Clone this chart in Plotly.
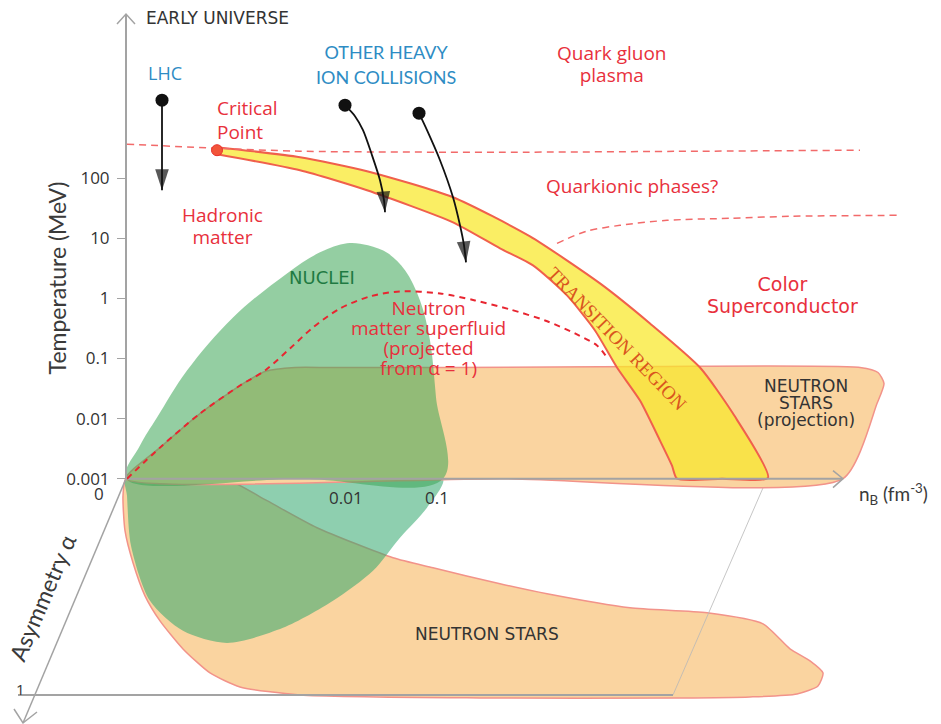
import plotly.graph_objects as go

W, H = 941, 724          # diagram coordinate frame (pixels of the target picture)
PAGE_H = 736             # page height; the photo is resized to 724

# ---------------- data (diagram units: x along n_B, y down the page) ----------------
temp_tick_values = [0.001, 0.01, 0.1, 1, 10, 100]
temp_tick_labels = ["0.001", "0.01", "0.1", "1", "10", "100"]

# NUCLEI region, (n_B, T) plane
nuclei_upper_x = [126, 140, 157, 187, 233, 287, 320, 347, 368, 388, 405, 420, 430, 436, 443, 300, 126]
nuclei_upper_y = [478, 445, 417, 370, 317, 273, 252, 243, 245, 253, 270, 300, 340, 397, 478, 478, 478]
# NUCLEI region, (n_B, alpha) plane
nuclei_lower_x = [126, 127, 131, 150, 183, 227, 283, 333, 373, 400, 427, 443, 300, 126]
nuclei_lower_y = [478, 495, 545, 600, 630, 642, 627, 600, 570, 537, 507, 478, 478, 478]

# NEUTRON STARS projection, (n_B, T) plane
ns_upper_x = [126, 160, 200, 240, 265, 295, 330, 450, 650, 860, 878, 884, 877, 843, 500, 126]
ns_upper_y = [478, 447, 413, 385, 371, 367, 367, 367, 366, 367, 372, 383, 403, 478, 478, 478]
# NEUTRON STARS, (n_B, alpha) plane
ns_lower_x = [126, 123, 125, 133, 145, 160, 183, 210, 240, 300, 480, 680, 750, 797, 818, 823,
              810, 790, 763, 707, 630, 547, 500, 433, 393, 317, 267, 227, 170, 126]
ns_lower_y = [478, 495, 530, 562, 595, 620, 648, 672, 686, 694, 697, 697, 696, 693, 685, 672,
              660, 648, 623, 612, 607, 593, 583, 567, 557, 527, 500, 479, 478, 478]

# Transition region band
band_x = [217, 300, 367, 453, 530, 600, 650, 700, 733, 768, 722, 677,
          672, 660, 640, 617, 595, 567, 533, 500, 453, 367, 300, 217]
band_y = [147, 157, 171, 197, 236, 283, 323, 367, 413, 477, 478, 478,
          465, 440, 400, 367, 330, 295, 265, 248, 222, 190, 170, 154]
critical_point = (217, 150)

# Phase boundaries (dashed)
qgp_boundary_x = [127, 217, 300, 500, 700, 860]
qgp_boundary_y = [144, 148, 151, 152, 151, 150]
quarkionic_boundary_x = [557, 586, 620, 667, 730, 790, 898]
quarkionic_boundary_y = [243, 231, 225, 220, 218, 216, 215]
superfluid_x = [127, 160, 200, 240, 265, 290, 313, 340, 370, 400, 440, 475, 510, 545, 575, 597, 607]
superfluid_y = [478, 447, 413, 385, 370, 348, 327, 308, 296, 291, 293, 300, 309, 320, 333, 345, 357]

# Experiment trajectories (start point = collision, last point = arrow tip)
lhc_x = [162, 162]
lhc_y = [100, 190]
hic1_x = [345, 355, 363, 372, 380, 384, 385]
hic1_y = [105, 116, 130, 155, 180, 200, 212]
hic2_x = [419, 427, 440, 453, 460, 464, 466]
hic2_y = [113, 130, 160, 197, 225, 245, 262]

GRAY = "#a3a3a3"
RED = "#e8303c"
BLUE = "#2e8cc4"
DARK = "#333333"
FONT = "Open Sans"

fig = go.Figure()


def poly(x, y, fill, line_color, width=1.5, smooth=0.7):
    fig.add_trace(go.Scatter(x=x, y=y, mode="lines", fill="toself", fillcolor=fill,
                             line=dict(color=line_color, width=width, shape="spline", smoothing=smooth),
                             hoverinfo="skip", showlegend=False))


def line(x, y, color, width=1.5, dash=None, shape="linear"):
    fig.add_trace(go.Scatter(x=x, y=y, mode="lines",
                             line=dict(color=color, width=width, dash=dash, shape=shape, smoothing=0.8),
                             hoverinfo="skip", showlegend=False))


# lower (alpha) plane
poly(ns_lower_x, ns_lower_y, "#fad4a0", "#f2938a", 1.5, 0.6)
poly(nuclei_lower_x, nuclei_lower_y, "rgba(50,168,110,0.55)", "rgba(0,0,0,0)", 0, 0.8)
line([673, 767], [694, 478], "#b8b8b8", 0.8)
line([18, 673], [694, 694], GRAY, 2)
line([126, 23], [478, 722], GRAY, 1.5)
line([14, 23, 37], [708, 722, 711], GRAY, 1.5)

# upper (T) plane
poly(ns_upper_x, ns_upper_y, "#fad4a0", "#f2938a", 1.5, 0.6)
poly(band_x, band_y, "rgba(248,232,40,0.72)", "#f0604c", 2, 0.6)
poly(nuclei_upper_x, nuclei_upper_y, "rgba(60,165,85,0.55)", "rgba(0,0,0,0)", 0, 1.0)

# axes
line([126, 842], [478, 478], GRAY, 2)
line([833, 843, 833], [470, 478, 487], GRAY, 1.5)
line([117, 126, 135], [24, 14, 24], GRAY, 1.5)

# dashed phase boundaries
line(qgp_boundary_x, qgp_boundary_y, "#f26a6a", 1.5, "7px,5px", "spline")
line(quarkionic_boundary_x, quarkionic_boundary_y, "#f26a6a", 1.5, "7px,5px", "spline")
line(superfluid_x, superfluid_y, "#e82530", 2, "6px,5px", "spline")

# critical point
fig.add_trace(go.Scatter(x=[critical_point[0]], y=[critical_point[1]], mode="markers",
                         marker=dict(size=11, color="#f2553a", line=dict(color="#e8302a", width=1)),
                         hoverinfo="skip", showlegend=False))

# experiment arrows
for ax_, ay_ in [(lhc_x, lhc_y), (hic1_x, hic1_y), (hic2_x, hic2_y)]:
    line(ax_, ay_, "#111111", 1.8, None, "spline")
    fig.add_trace(go.Scatter(x=ax_[-2:], y=ay_[-2:], mode="markers",
                             marker=dict(symbol="arrow", size=[0, 22], angleref="previous",
                                         color="#111111", line=dict(width=0)),
                             hoverinfo="skip", showlegend=False))
    fig.add_trace(go.Scatter(x=ax_[:1], y=ay_[:1], mode="markers",
                             marker=dict(symbol="circle", size=13, color="#111111"),
                             hoverinfo="skip", showlegend=False))

# invisible trace to attach the temperature axis
fig.add_trace(go.Scatter(x=[126], y=[0.001], yaxis="y2", mode="markers",
                         marker=dict(size=0, opacity=0), hoverinfo="skip", showlegend=False))

ann = []


def txt(x, y, lines, color=RED, size=19, font=FONT, angle=0, xanchor="center", spacing=None):
    # spacing: distance between baselines; the base font size sets the line pitch
    if isinstance(lines, str):
        lines = [lines]
    base = size if spacing is None else spacing / 1.3
    text = "<br>".join(f"<span style='font-size:{size}px'>{t}</span>" for t in lines)
    ann.append(dict(x=x, y=y, xref="x", yref="y", text=text, showarrow=False,
                    font=dict(family=font, size=base, color=color), textangle=angle,
                    xanchor=xanchor, yanchor="middle",
                    align="left" if xanchor == "left" else "center"))


txt(144, 18, "EARLY UNIVERSE", DARK, 17, "DejaVu Sans", xanchor="left")
txt(165, 73, "LHC", BLUE, 18)
txt(386, 64, ["OTHER HEAVY", "ION COLLISIONS"], BLUE, 18, "Lato", spacing=25)
txt(612, 64, ["Quark gluon", "plasma"], RED, 19, spacing=22)
txt(215, 120, ["Critical", "Point"], RED, 19, xanchor="left", spacing=24)
txt(222, 226, ["Hadronic", "matter"], RED, 19, spacing=22)
txt(632, 186, "Quarkionic phases?", RED, 19)
txt(782, 295, ["Color", "Superconductor"], RED, 19, "DejaVu Sans", spacing=22)
txt(322, 277, "NUCLEI", "#1f7a42", 18, "DejaVu Sans")
txt(428, 338, ["Neutron", "matter superfluid", "(projected", "from α = 1)"], RED, 19, spacing=20)
txt(617, 338, "TRANSITION REGION", "#d9561e", 19, "Liberation Serif", angle=46)
txt(806, 402, ["NEUTRON", "STARS", "(projection)"], DARK, 17, "DejaVu Sans", spacing=17)
txt(487, 633, "NEUTRON STARS", DARK, 17, "DejaVu Sans")
txt(57, 278, "Temperature (MeV)", "#3a3a3a", 23, "Lato", angle=-90)
txt(42, 597, "Asymmetry α", "#3a3a3a", 23, "Lato", angle=-67)
txt(893, 493, "n<sub>B</sub> (fm<sup>-3</sup>)", "#3a3a3a", 19, "Lato")
txt(99, 493, "0", DARK, 17)
txt(346, 497, "0.01", DARK, 17)
txt(437, 497, "0.1", DARK, 17)
txt(20, 688, "1", DARK, 15)

fig.update_layout(
    width=W, height=PAGE_H, margin=dict(l=0, r=0, t=0, b=0),
    paper_bgcolor="white", plot_bgcolor="rgba(0,0,0,0)",
    xaxis=dict(range=[0, W], visible=False, fixedrange=True),
    yaxis=dict(range=[H, 0], visible=False, fixedrange=True),
    yaxis2=dict(type="log", domain=[(H - 478) / H, (H - 14) / H],
                range=[-3, -3 + (478 - 14) / 60.0],
                anchor="free", position=126 / W, side="left",
                showline=True, linecolor=GRAY, linewidth=2,
                ticks="outside", ticklen=8, tickcolor=GRAY, tickwidth=1,
                ticklabelstandoff=4,
                tickvals=temp_tick_values, ticktext=temp_tick_labels,
                tickfont=dict(family=FONT, size=17, color=DARK),
                showgrid=False, zeroline=False, fixedrange=True),
    annotations=ann,
    showlegend=False,
    hovermode=False,
)

page_fix = (
    "document.documentElement.style.margin='0';document.documentElement.style.overflow='hidden';"
    "document.body.style.margin='0';document.body.style.overflow='hidden';"
    "var g=document.getElementsByClassName('plotly-graph-div')[0];"
    "g.style.position='absolute';g.style.left='0px';g.style.top='0px';"
)
fig.write_html("out.html", config={"displayModeBar": False, "staticPlot": True}, post_script=page_fix)
